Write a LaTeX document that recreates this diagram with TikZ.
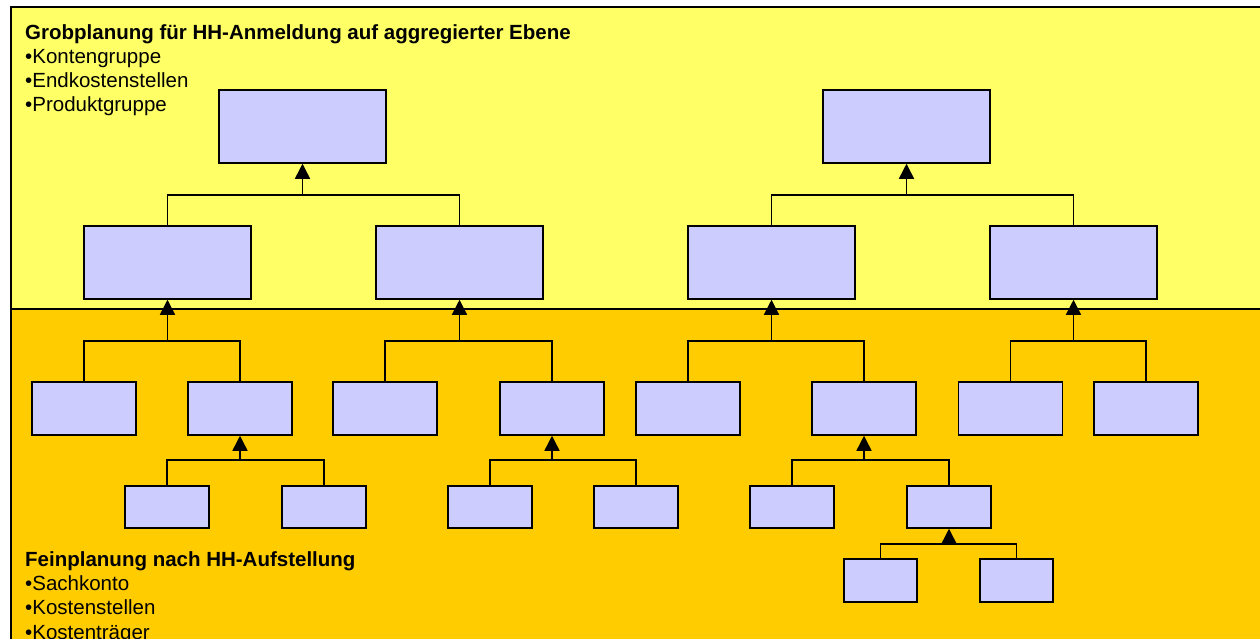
\documentclass[tikz,border=0pt]{standalone}
\usepackage{fontspec}
\setmainfont{Liberation Sans}
\usetikzlibrary{arrows.meta}
\definecolor{paleyellow}{HTML}{FFFF66}
\definecolor{gold}{HTML}{FFCC00}
\definecolor{lavender}{HTML}{CCCCFF}
\begin{document}
\begin{tikzpicture}[x=1pt,y=-1pt,
  box/.style={draw=black, fill=lavender, line width=1.5pt, inner sep=0pt},
  boxA/.style={box, minimum width=167pt, minimum height=73pt},
  boxB/.style={box, minimum width=104pt, minimum height=53pt},
  boxC/.style={box, minimum width=84pt, minimum height=42pt},
  boxD/.style={box, minimum width=73pt, minimum height=43pt},
  conn/.style={line width=1.5pt},
  uparrow/.style={conn, -{Triangle[width=15pt,length=15pt]}},
  lbl/.style={anchor=base west, inner sep=0pt, font=\fontsize{20.5}{24}\selectfont},
  hdr/.style={lbl, font=\fontsize{20.5}{24}\selectfont\bfseries},
  frame/.style={line width=2pt}]
\useasboundingbox (0,0) rectangle (1260,638);
% bands
\fill[paleyellow] (11,7) rectangle (1266,309);
\fill[gold] (11,309) rectangle (1266,645);
\draw[frame] (1266,7) -- (11,7) -- (11,645);
\draw[frame] (11,309) -- (1266,309);
% texts
\node[hdr] (h1) at (25,39.5) {Grobplanung für HH-Anmeldung auf aggregierter Ebene};
\node[lbl] (h1a) at (25,63.5) {•Kontengruppe};
\node[lbl] (h1b) at (25,87.5) {•Endkostenstellen};
\node[lbl] (h1c) at (25,111.5) {•Produktgruppe};
\node[hdr] (h2) at (25,566) {Feinplanung nach HH-Aufstellung};
\node[lbl] (h2a) at (25,590) {•Sachkonto};
\node[lbl] (h2b) at (25,614.5) {•Kostenstellen};
\node[lbl] (h2c) at (25,639) {•Kostenträger};
% level 1
\node[boxA] (t1) at (302.5,126.5) {};
\node[boxA] (t2) at (906.5,126.5) {};
% level 2
\node[boxA] (m1) at (167.5,262.5) {};
\node[boxA] (m2) at (459.5,262.5) {};
\node[boxA] (m3) at (771.5,262.5) {};
\node[boxA] (m4) at (1073.5,262.5) {};
% level 3
\node[boxB] (l1) at (84,408.5) {};
\node[boxB] (l2) at (240,408.5) {};
\node[boxB] (l3) at (385,408.5) {};
\node[boxB] (l4) at (552,408.5) {};
\node[boxB] (l5) at (688,408.5) {};
\node[boxB] (l6) at (864,408.5) {};
\node[boxB] (l7) at (1010.5,408.5) {};
\node[boxB] (l8) at (1146,408.5) {};
% level 4
\node[boxC] (k1) at (167,507) {};
\node[boxC] (k2) at (324,507) {};
\node[boxC] (k3) at (490,507) {};
\node[boxC] (k4) at (636,507) {};
\node[boxC] (k5) at (792,507) {};
\node[boxC] (k6) at (949,507) {};
% level 5
\node[boxD] (q1) at (880.5,580.5) {};
\node[boxD] (q2) at (1016.5,580.5) {};
% junctions
\coordinate (j1) at (302.5,195);
\coordinate (j2) at (906.5,195);
\coordinate (j3) at (167.5,341);
\coordinate (j4) at (459.5,341);
\coordinate (j5) at (771.5,341);
\coordinate (j6) at (1073.5,341);
\coordinate (j7) at (240,460);
\coordinate (j8) at (552,460);
\coordinate (j9) at (864,460);
\coordinate (j10) at (949,544);
% connectors
\draw[conn] (m1.north) |- (j1) -| (m2.north);
\draw[uparrow] (j1) -- (t1.south);
\draw[conn] (m3.north) |- (j2) -| (m4.north);
\draw[uparrow] (j2) -- (t2.south);
\draw[conn] (l1.north) |- (j3) -| (l2.north);
\draw[uparrow] (j3) -- (m1.south);
\draw[conn] (l3.north) |- (j4) -| (l4.north);
\draw[uparrow] (j4) -- (m2.south);
\draw[conn] (l5.north) |- (j5) -| (l6.north);
\draw[uparrow] (j5) -- (m3.south);
\draw[conn] (l7.north) |- (j6) -| (l8.north);
\draw[uparrow] (j6) -- (m4.south);
\draw[conn] (k1.north) |- (j7) -| (k2.north);
\draw[uparrow] (j7) -- (l2.south);
\draw[conn] (k3.north) |- (j8) -| (k4.north);
\draw[uparrow] (j8) -- (l4.south);
\draw[conn] (k5.north) |- (j9) -| (k6.north);
\draw[uparrow] (j9) -- (l6.south);
\draw[conn] (q1.north) |- (j10) -| (q2.north);
\draw[uparrow] (j10) -- (k6.south);
\end{tikzpicture}
\end{document}
